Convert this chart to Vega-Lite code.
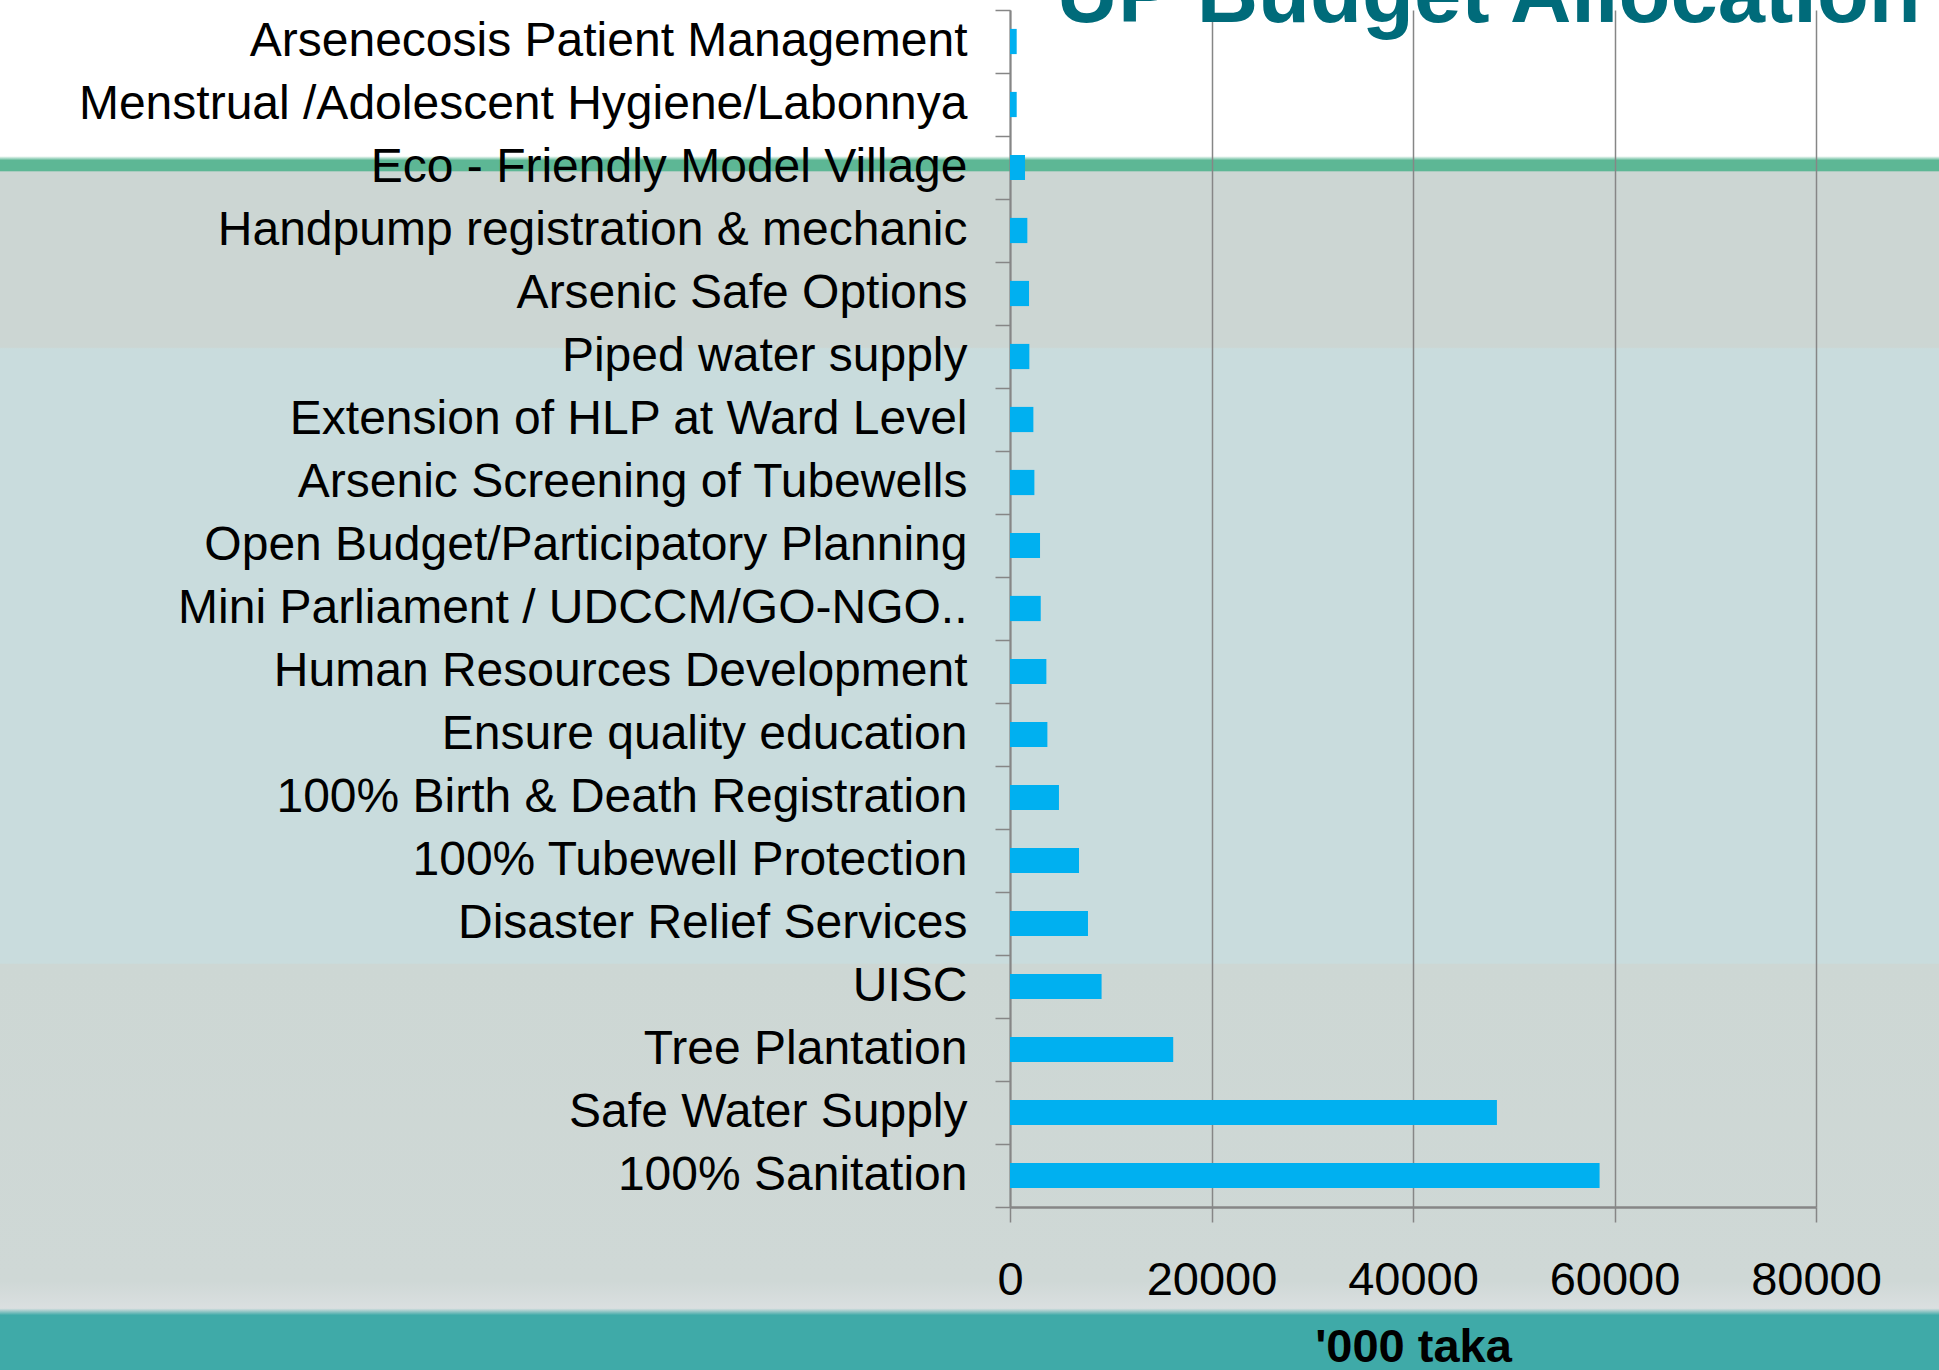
{
  "$schema": "https://vega.github.io/schema/vega-lite/v6.json",
  "width": 1939,
  "height": 1370,
  "autosize": {"type": "none"},
  "padding": 0,
  "background": "#FFFFFF",
  "config": {
    "view": {
      "stroke": null,
      "fill": {
        "gradient": "linear",
        "x1": 0, "y1": 0, "x2": 0, "y2": 1,
        "stops": [
          {"offset": 0, "color": "#FFFFFF"},
          {"offset": 0.114, "color": "#FFFFFF"},
          {"offset": 0.117, "color": "#5DB795"},
          {"offset": 0.1245, "color": "#5DB795"},
          {"offset": 0.1255, "color": "#CCD6D3"},
          {"offset": 0.2535, "color": "#CCD6D3"},
          {"offset": 0.2545, "color": "#C9DCDD"},
          {"offset": 0.703, "color": "#C9DCDD"},
          {"offset": 0.704, "color": "#CDD7D4"},
          {"offset": 0.935, "color": "#CFD8D6"},
          {"offset": 0.955, "color": "#DADFE0"},
          {"offset": 0.96, "color": "#3FAAA8"},
          {"offset": 1, "color": "#3FAAA8"}
        ]
      }
    }
  },
  "datasets": {
    "budget": [
      {"item": "Arsenecosis Patient Management", "value": 665},
      {"item": "Menstrual /Adolescent Hygiene/Labonnya", "value": 665},
      {"item": "Eco - Friendly Model Village", "value": 1490},
      {"item": "Handpump registration & mechanic", "value": 1720},
      {"item": "Arsenic Safe Options", "value": 1890},
      {"item": "Piped water supply", "value": 1920},
      {"item": "Extension of HLP at Ward Level", "value": 2320},
      {"item": "Arsenic Screening of Tubewells", "value": 2420},
      {"item": "Open Budget/Participatory Planning", "value": 2980},
      {"item": "Mini Parliament / UDCCM/GO-NGO..", "value": 3050},
      {"item": "Human Resources Development", "value": 3610},
      {"item": "Ensure quality education", "value": 3710},
      {"item": "100% Birth & Death Registration", "value": 4860},
      {"item": "100% Tubewell Protection", "value": 6850},
      {"item": "Disaster Relief Services", "value": 7740},
      {"item": "UISC", "value": 9090},
      {"item": "Tree Plantation", "value": 16200},
      {"item": "Safe Water Supply", "value": 48330},
      {"item": "100% Sanitation", "value": 58520}
    ],
    "heading": [
      {"title": "UP Budget Allocation", "item": "Arsenecosis Patient Management", "value": 90400}
    ]
  },
  "layer": [
    {
      "data": {"name": "budget"},
      "mark": {"type": "bar", "color": "#00B0F0", "height": {"band": 0.4}},
      "encoding": {
        "y": {
          "field": "item",
          "type": "nominal",
          "sort": null,
          "scale": {"range": [10, 1207], "paddingInner": 0, "paddingOuter": 0},
          "axis": {
            "title": null,
            "orient": "left",
            "offset": -1010,
            "tickBand": "extent",
            "grid": false,
            "domainColor": "#868686",
            "domainWidth": 2,
            "tickColor": "#868686",
            "tickWidth": 1.5,
            "tickSize": 15,
            "labelFont": "Liberation Sans",
            "labelFontSize": 48,
            "labelColor": "#000000",
            "labelPadding": 28,
            "labelLimit": 1200
          }
        },
        "x": {
          "field": "value",
          "type": "quantitative",
          "scale": {"domain": [0, 80000], "range": [1010, 1816], "nice": false},
          "axis": {
            "orient": "top",
            "offset": -1207,
            "values": [0, 20000, 40000, 60000, 80000],
            "format": "d",
            "grid": true,
            "gridColor": "#868686",
            "gridWidth": 1.5,
            "domainColor": "#868686",
            "domainWidth": 2.5,
            "tickColor": "#868686",
            "tickWidth": 1.5,
            "tickSize": -15,
            "labelFont": "Liberation Sans",
            "labelFontSize": 47,
            "labelColor": "#000000",
            "labelPadding": -35,
            "labelBaseline": "top",
            "labelFlush": false,
            "labelOverlap": false,
            "title": "'000 taka",
            "titleFont": "Liberation Sans",
            "titleFontSize": 47,
            "titleFontWeight": "bold",
            "titleColor": "#000000",
            "titleBaseline": "top",
            "titleY": 117
          }
        }
      }
    },
    {
      "data": {"name": "heading"},
      "mark": {
        "type": "text",
        "align": "right",
        "baseline": "alphabetic",
        "dy": -19.5,
        "fontSize": 85,
        "font": "Liberation Sans",
        "fontWeight": "bold",
        "color": "#006B7A"
      },
      "encoding": {
        "text": {"field": "title"},
        "x": {"field": "value", "type": "quantitative"},
        "y": {"field": "item", "type": "nominal", "sort": null}
      }
    }
  ]
}
